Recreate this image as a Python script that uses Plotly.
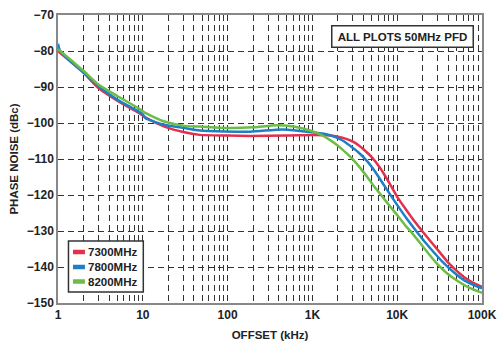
import plotly.graph_objects as go

# ---- data (offset in kHz, phase noise in dBc) ----
freq_red = [1, 1.5, 2, 3, 5, 9, 10.7, 18, 30, 47, 100, 184, 500, 1000, 1500, 2000, 2500, 3000, 3500,
            4000, 5000, 6300, 8000, 10000, 12500, 16000, 20000, 25000, 32000, 40000, 50000, 63000,
            80000, 100000]
pn_red = [-80, -83.5, -86, -90.3, -93.8, -97.2, -98.4, -101, -102.5, -103.3, -103.5, -103.6, -103.5,
          -103.3, -103.4, -103.8, -104.4, -105.2, -106.2, -107.3, -109.5, -112.5, -116.5, -120.5,
          -123.8, -127.3, -130.2, -133, -136, -138.8, -141, -143, -144.5, -145.5]

freq_blue = [1, 1.05, 1.5, 2, 3, 5, 8.9, 10, 10.7, 18, 31, 47, 184, 450, 1000, 1500, 1900, 2400, 2800,
             3500, 4500, 5600, 7000, 8500, 10500, 13000, 17000, 21000, 27000, 35000, 45000, 60000,
             80000, 100000]
pn_blue = [-78, -79.8, -83.5, -86, -89.7, -93.5, -96.8, -97.6, -98.6, -100.5, -101.4, -102.1, -102.4,
           -101.8, -102.6, -103.2, -104, -105.2, -106.4, -108.2, -110.8, -113.8, -117.3, -120.3,
           -123.5, -126.6, -130.2, -132.9, -135.9, -138.8, -141.2, -143.5, -145, -145.9]

freq_green = [1, 1.5, 2, 3, 5, 8.9, 10.7, 18, 31, 47, 100, 200, 380, 600, 1000, 1300, 1600, 2000, 2500,
              3000, 3700, 4500, 5500, 6600, 8000, 10000, 12500, 15000, 19000, 24000, 30000, 38000,
              50000, 65000, 80000, 100000]
pn_green = [-79.5, -83, -85.5, -89.3, -92.5, -95.9, -97.2, -99.6, -100.8, -101, -101.4, -101.2, -100.6,
            -101, -102.3, -103.4, -104.7, -106.3, -108.3, -110.1, -112.6, -115.2, -118, -120.3,
            -122.8, -125.6, -128.5, -130.6, -133.6, -136.6, -139.3, -141.6, -143.7, -145.3, -146.3,
            -147.2]

series_names = ["7300MHz", "7800MHz", "8200MHz"]
series_colors = ["#e4304d", "#1f7fc6", "#6cbd45"]

x_tickvals = [1, 10, 100, 1000, 10000, 100000]
x_ticktext = ["1", "10", "100", "1K", "10K", "100K"]
y_tickvals = [-150, -140, -130, -120, -110, -100, -90, -80, -70]
y_ticktext = ["\u2212150", "\u2212140", "\u2212130", "\u2212120", "\u2212110", "\u2212100",
              "\u221290", "\u221280", "\u221270"]

FONT = "Liberation Sans"
TXT = "#222222"

fig = go.Figure()
for fx, fy, name, col in zip([freq_red, freq_blue, freq_green], [pn_red, pn_blue, pn_green],
                             series_names, series_colors):
    fig.add_trace(go.Scatter(x=fx, y=fy, mode="lines", name=name,
                             line=dict(color=col, width=2.5, shape="spline", smoothing=0.6),
                             showlegend=False))

grid_dash = "6px,4px"
GC = "#333333"
fig.update_xaxes(type="log", range=[0, 5], tickvals=x_tickvals, ticktext=x_ticktext,
                 showgrid=True, gridcolor=GC, gridwidth=1, griddash=grid_dash,
                 minor=dict(dtick="D1", showgrid=True, gridcolor=GC, gridwidth=1, griddash=grid_dash),
                 showline=True, linecolor="#888888", linewidth=1.5, mirror=True, ticks="",
                 zeroline=False, automargin=False,
                 tickfont=dict(family=FONT, size=12, color=TXT, weight="bold"),
                 title=dict(text="OFFSET (kHz)", font=dict(family=FONT, size=11.5, color=TXT, weight="bold"),
                            standoff=10))
fig.update_yaxes(range=[-150, -70], tickvals=y_tickvals, ticktext=y_ticktext,
                 showgrid=True, gridcolor=GC, gridwidth=1, griddash=grid_dash,
                 showline=True, linecolor="#888888", linewidth=1.5, mirror=True, ticks="",
                 zeroline=False, automargin=False,
                 tickfont=dict(family=FONT, size=12, color=TXT, weight="bold"),
                 title=dict(text="PHASE NOISE (dBc)", font=dict(family=FONT, size=11.5, color=TXT, weight="bold"),
                            standoff=6))

# plot-area geometry in pixels (for legend/annotation placement)
L, R, T, B = 57.5, 482.5, 15, 303
PW, PH = R - L, B - T
def px(x):
    return (x - L) / PW
def py(y):
    return (B - y) / PH

shapes = [dict(type="rect", xref="paper", yref="paper", x0=px(68), x1=px(143), y0=py(292), y1=py(241),
               line=dict(color="#333333", width=1.5), fillcolor="white", layer="above")]
annos = []
row_y = [252, 267, 281.5]
for name, col, ry in zip(series_names, series_colors, row_y):
    shapes.append(dict(type="line", xref="paper", yref="paper", x0=px(72.5), x1=px(84.5),
                       y0=py(ry), y1=py(ry), line=dict(color=col, width=4.5), layer="above"))
    annos.append(dict(xref="paper", yref="paper", x=px(86), y=py(ry), xanchor="left", yanchor="middle",
                      text=name, showarrow=False,
                      font=dict(family=FONT, size=11.5, color=TXT, weight="bold")))

annos.append(dict(xref="paper", yref="paper", x=px(402.5), y=py(36.5), xanchor="center", yanchor="middle",
                  text="ALL PLOTS 50MHz PFD", showarrow=False, width=138, height=18,
                  bgcolor="white", bordercolor="#333333", borderwidth=1.5, borderpad=1,
                  font=dict(family=FONT, size=11.5, color=TXT, weight="bold")))

fig.update_layout(width=500, height=345, margin=dict(l=L, r=500 - R, t=T, b=345 - B),
                  paper_bgcolor="white", plot_bgcolor="white",
                  shapes=shapes, annotations=annos)

fig.write_html("out.html")
